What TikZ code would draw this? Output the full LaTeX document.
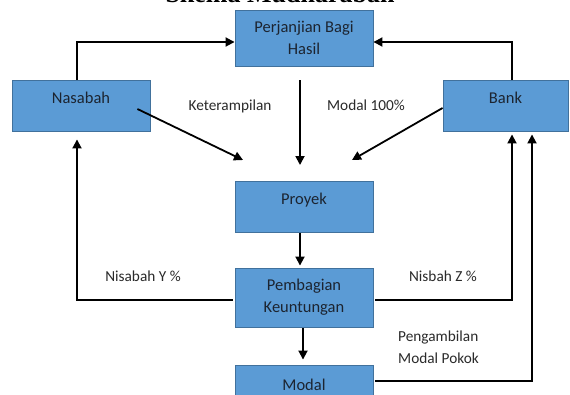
\documentclass[tikz,border=0pt]{standalone}
\usepackage{fontspec}
\setmainfont{Carlito}
\newfontfamily\titlefont{Liberation Serif}
\usetikzlibrary{arrows.meta}
\definecolor{boxfill}{HTML}{5B9BD5}
\definecolor{boxline}{HTML}{41719C}
\definecolor{boxtext}{HTML}{1C2430}
\definecolor{labeltext}{HTML}{2A2A2A}

\begin{document}
\begin{tikzpicture}[x=1pt,y=-1pt,
  box/.style={draw=boxline, line width=0.9pt, fill=boxfill, text=boxtext,
    font=\fontsize{16.5}{22}\selectfont, align=center, inner sep=0pt,
    minimum width=138pt},
  oneline/.style={text height=11pt, text depth=16pt},
  lbl/.style={text=labeltext, font=\fontsize{15.3}{22.5}\selectfont, inner sep=0pt},
  arr/.style={line width=1.8pt, -{Triangle[length=9pt,width=9pt]}}]

\useasboundingbox (0,0) rectangle (570,394);
\clip (0,0) rectangle (570,394);
\fill[white] (0,0) rectangle (570,394);

% heading, mostly above the page edge
\node[font=\titlefont\bfseries\fontsize{26}{30}\selectfont, anchor=base,
      inner sep=0pt] (title) at (280,2.5) {Skema Mudharabah};

% boxes
\node[box, minimum height=56pt] (perj) at (304,38) {Perjanjian Bagi\\Hasil};
\node[box, oneline, minimum height=51pt] (nas) at (81,105.5) {Nasabah};
\node[box, oneline, minimum width=125pt, minimum height=51pt] (bank) at (505.5,105.5) {Bank};
\node[box, oneline, minimum height=51pt] (proy) at (304,207) {Proyek};
\node[box, minimum height=59pt] (pemb) at (304,297.5) {Pembagian\\Keuntungan};
\node[box, oneline, minimum height=55pt] (modal) at (304,392.5) {Modal};

% free ends of the arrows into the project
\coordinate (kin) at (243,160);
\coordinate (min) at (352,160);
\coordinate (pin) at (300,165);

% agreement
\draw[arr] ([xshift=-4pt]nas.north) |- ([yshift=-4pt]perj.west);
\draw[arr] ([xshift=6.5pt]bank.north) |- ([yshift=-4pt]perj.east);

% inputs to the project
\draw[arr] ([xshift=-13pt,yshift=-3.5pt]nas.east) -- (kin);
\draw[arr] ([yshift=-2.5pt]bank.west) -- (min);
\draw[arr] ([xshift=-4pt,yshift=-14pt]perj.south) -- (pin);

% project flow
\draw[arr] ([xshift=-4pt]proy.south) -- ([xshift=-4pt,yshift=2pt]pemb.north);
\draw[arr] ([xshift=-1pt,yshift=-1pt]pemb.south) -- ([xshift=-1pt,yshift=5pt]modal.north);

% returns
\draw[arr] ([xshift=-2pt,yshift=-2.5pt]pemb.west) -| ([xshift=-4pt,yshift=-8pt]nas.south);
\draw[arr] ([xshift=2pt,yshift=-2.5pt]pemb.east) -| ([xshift=6.5pt,yshift=-3pt]bank.south);
\draw[arr] ([xshift=2pt,yshift=11.5pt]modal.east) -| ([xshift=26.5pt,yshift=-3pt]bank.south);

% labels
\node[lbl, anchor=base] (lk) at (230,110) {Keterampilan};
\node[lbl, anchor=base] (lm) at (366,110) {Modal 100\%};
\node[lbl, anchor=base] (ly) at (143,281) {Nisabah Y \%};
\node[lbl, anchor=base] (lz) at (443,281) {Nisbah Z \%};
\node[lbl, anchor=west, align=left] (lp) at (398,347) {Pengambilan\\Modal Pokok};
\end{tikzpicture}
\end{document}
